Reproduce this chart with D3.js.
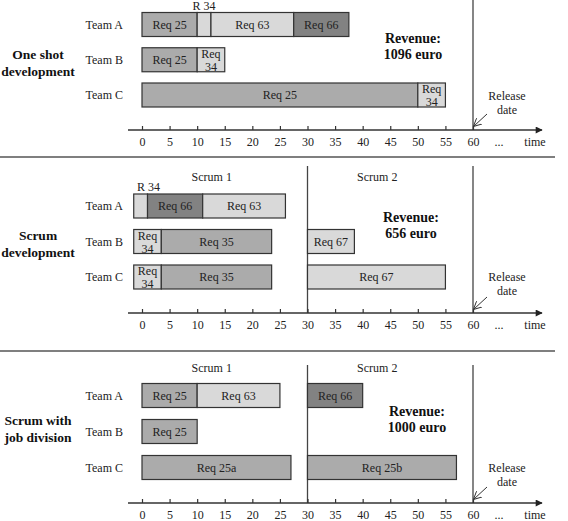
<!DOCTYPE html>
<html>
<head>
<meta charset="utf-8">
<script src="https://cdn.jsdelivr.net/npm/d3@7/dist/d3.min.js"></script>
<style>
  html, body { margin: 0; padding: 0; background: #fff; }
  svg { display: block; font-family: "Liberation Serif", "Times New Roman", serif; }
</style>
</head>
<body>
<svg id="chart" width="568" height="521"></svg>
<script>
// ---------- data ----------
const teams = ["Team A", "Team B", "Team C"];
const timeTicks = [0, 5, 10, 15, 20, 25, 30, 35, 40, 45, 50, 55, 60];
const panelTitles = [["One shot", "development"], ["Scrum", "development"], ["Scrum with", "job division"]];
const revenues = ["1096 euro", "656 euro", "1000 euro"];
const sprintLabels = ["Scrum 1", "Scrum 2"];
const sprintStarts = [30];   // sprint boundary (time units)
const releaseTime = 60;

// [team, label, start, end, shade, labelAbove]
const oneShotSegments = [
  ["Team A", "Req 25", 0, 10, "mid", false],
  ["Team A", "R 34", 10, 12.5, "light", true],
  ["Team A", "Req 63", 12.5, 27.5, "light", false],
  ["Team A", "Req 66", 27.5, 37.5, "dark", false],
  ["Team B", "Req 25", 0, 10, "mid", false],
  ["Team B", "Req 34", 10, 15, "light", false],
  ["Team C", "Req 25", 0, 50, "mid", false],
  ["Team C", "Req 34", 50, 55, "light", false]
];
const scrumSegments = [
  ["Team A", "R 34", -1.5, 1, "light", true],
  ["Team A", "Req 66", 1, 11, "dark", false],
  ["Team A", "Req 63", 11, 26, "light", false],
  ["Team B", "Req 34", -1.5, 3.5, "light", false],
  ["Team B", "Req 35", 3.5, 23.5, "mid", false],
  ["Team B", "Req 67", 30, 38.5, "light", false],
  ["Team C", "Req 34", -1.5, 3.5, "light", false],
  ["Team C", "Req 35", 3.5, 23.5, "mid", false],
  ["Team C", "Req 67", 30, 55, "light", false]
];
const jobDivisionSegments = [
  ["Team A", "Req 25", 0, 10, "mid", false],
  ["Team A", "Req 63", 10, 25, "light", false],
  ["Team A", "Req 66", 30, 40, "dark", false],
  ["Team B", "Req 25", 0, 10, "mid", false],
  ["Team C", "Req 25a", 0, 27, "mid", false],
  ["Team C", "Req 25b", 30, 57, "mid", false]
];

// ---------- layout ----------
const shadeColor = { dark: "#828282", mid: "#ababab", light: "#d9d9d9" };
const panels = [
  { segs: oneShotSegments, rows: [24.5, 95], axisY: 130, lineTop: 0, sprints: false,
    titleY: 59, revX: 413, revY: 43, relY: 100, sprintY: 0 },
  { segs: scrumSegments, rows: [206, 277], axisY: 313, lineTop: 166, sprints: true,
    titleY: 240, revX: 411, revY: 222, relY: 281, sprintY: 181 },
  { segs: jobDivisionSegments, rows: [395.5, 467.5], axisY: 503, lineTop: 365, sprints: true,
    titleY: 425, revX: 417, revY: 416, relY: 472, sprintY: 372 }
];
const separators = [157, 351];
const barH = 24;

const svg = d3.select("#chart");
const x = d3.scaleLinear().domain([0, 60]).range([142, 473]);

const defs = svg.append("defs");
defs.append("marker").attr("id", "axArrow").attr("viewBox", "0 0 10 10")
  .attr("refX", 9).attr("refY", 5).attr("markerWidth", 9).attr("markerHeight", 7)
  .attr("markerUnits", "userSpaceOnUse").attr("orient", "auto")
  .append("path").attr("d", "M0,0L10,5L0,10z").attr("fill", "#222");
defs.append("marker").attr("id", "openArrow").attr("viewBox", "0 0 10 10")
  .attr("refX", 9).attr("refY", 5).attr("markerWidth", 8).attr("markerHeight", 8)
  .attr("markerUnits", "userSpaceOnUse").attr("orient", "auto")
  .append("path").attr("d", "M0,0L10,5L0,10").attr("fill", "none").attr("stroke", "#333").attr("stroke-width", 1.2);

separators.forEach(yy => {
  svg.append("line").attr("x1", 0).attr("x2", 555).attr("y1", yy).attr("y2", yy)
    .attr("stroke", "#555").attr("stroke-width", 1.6);
});

panels.forEach((p, i) => {
  const g = svg.append("g");
  const y = d3.scalePoint().domain(teams).range(p.rows);

  // vertical lines
  const vts = p.sprints ? sprintStarts.concat([releaseTime]) : [releaseTime];
  vts.forEach(t => {
    g.append("line").attr("x1", x(t)).attr("x2", x(t)).attr("y1", p.lineTop).attr("y2", p.axisY)
      .attr("stroke", "#444").attr("stroke-width", 1.3);
  });

  // sprint labels
  if (p.sprints) {
    [[0, 30], [30, 60]].forEach((r, k) => {
      g.append("text").attr("x", x((r[0] + r[1]) / 2) - 13).attr("y", p.sprintY)
        .attr("text-anchor", "middle").attr("font-size", 12).attr("fill", "#222").text(sprintLabels[k]);
    });
  }

  // team labels
  teams.forEach(t => {
    g.append("text").attr("x", 123).attr("y", y(t) + 4).attr("text-anchor", "end")
      .attr("font-size", 12).attr("fill", "#222").text(t);
  });

  // bars
  p.segs.forEach(s => {
    const [team, label, a, b, shade, above] = s;
    const x0 = x(a), x1 = x(b), cy = y(team);
    g.append("rect").attr("x", x0).attr("y", cy - barH / 2).attr("width", x1 - x0).attr("height", barH)
      .attr("fill", shadeColor[shade]).attr("stroke", "#333").attr("stroke-width", 1.2);
    if (above) {
      g.append("text").attr("x", (x0 + x1) / 2 + (a < 0 ? 8 : 0)).attr("y", cy - barH / 2 - 3)
        .attr("text-anchor", "middle").attr("font-size", 12).attr("fill", "#222").text(label);
    } else if (x1 - x0 < 34) {
      const parts = label.split(" ");
      g.append("text").attr("x", (x0 + x1) / 2).attr("y", cy - 2)
        .attr("text-anchor", "middle").attr("font-size", 12).attr("fill", "#222").text(parts[0]);
      g.append("text").attr("x", (x0 + x1) / 2).attr("y", cy + 11)
        .attr("text-anchor", "middle").attr("font-size", 12).attr("fill", "#222").text(parts[1]);
    } else {
      g.append("text").attr("x", (x0 + x1) / 2).attr("y", cy + 4)
        .attr("text-anchor", "middle").attr("font-size", 12).attr("fill", "#222").text(label);
    }
  });

  // axis
  const axis = d3.axisBottom(x).tickValues(timeTicks).tickSizeInner(-4).tickSizeOuter(0).tickPadding(7);
  const ag = g.append("g").attr("transform", `translate(0,${p.axisY})`).call(axis);
  ag.attr("font-family", null);
  ag.select(".domain").remove();
  ag.selectAll(".tick line").attr("stroke", "#333").attr("stroke-width", 1.2);
  ag.selectAll(".tick text").attr("font-family", "Liberation Serif, serif").attr("font-size", 12).attr("fill", "#222");
  g.append("line").attr("x1", 128).attr("x2", 542).attr("y1", p.axisY).attr("y2", p.axisY)
    .attr("stroke", "#333").attr("stroke-width", 1.3).attr("marker-end", "url(#axArrow)");
  g.append("text").attr("x", 499).attr("y", p.axisY + 16).attr("text-anchor", "middle")
    .attr("font-size", 12).attr("fill", "#222").text("...");
  g.append("text").attr("x", 535).attr("y", p.axisY + 16).attr("text-anchor", "middle")
    .attr("font-size", 12).attr("fill", "#222").text("time");

  // release date
  g.append("text").attr("x", 507).attr("y", p.relY).attr("text-anchor", "middle")
    .attr("font-size", 12).attr("fill", "#222").text("Release");
  g.append("text").attr("x", 507).attr("y", p.relY + 14).attr("text-anchor", "middle")
    .attr("font-size", 12).attr("fill", "#222").text("date");
  g.append("line").attr("x1", x(releaseTime) + 14).attr("y1", p.axisY - 16)
    .attr("x2", x(releaseTime) + 1).attr("y2", p.axisY - 4)
    .attr("stroke", "#333").attr("stroke-width", 1).attr("marker-end", "url(#openArrow)");

  // revenue
  g.append("text").attr("x", p.revX).attr("y", p.revY).attr("text-anchor", "middle")
    .attr("font-size", 14).attr("font-weight", "bold").attr("fill", "#111").text("Revenue:");
  g.append("text").attr("x", p.revX).attr("y", p.revY + 16).attr("text-anchor", "middle")
    .attr("font-size", 14).attr("font-weight", "bold").attr("fill", "#111").text(revenues[i]);

  // panel title
  panelTitles[i].forEach((t, k) => {
    g.append("text").attr("x", 38).attr("y", p.titleY + k * 17).attr("text-anchor", "middle")
      .attr("font-size", 13.5).attr("font-weight", "bold").attr("fill", "#111").text(t);
  });
});
</script>
</body>
</html>
